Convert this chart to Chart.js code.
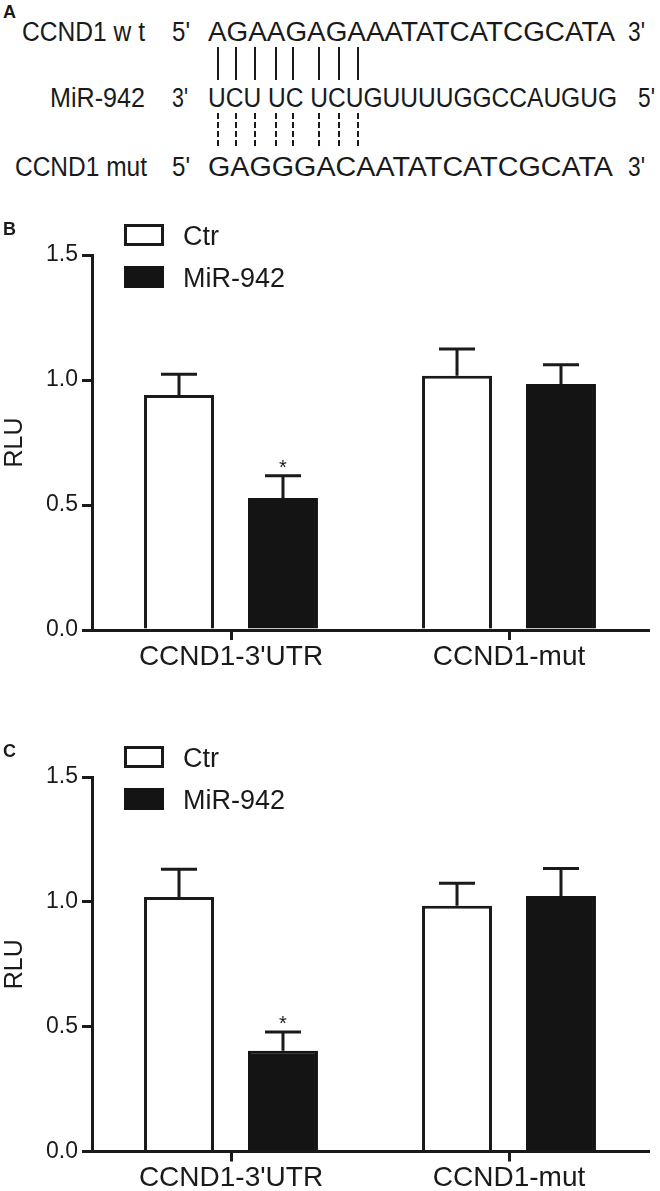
<!DOCTYPE html>
<html><head><meta charset="utf-8">
<script src="https://cdn.jsdelivr.net/npm/chart.js@4.4.1/dist/chart.umd.min.js"></script>
<style>
html,body{margin:0;padding:0;background:#fff;}
body{width:660px;height:1191px;position:relative;overflow:hidden;font-family:"Liberation Sans",Arial,sans-serif;color:#1a1a1a;}
.t{position:absolute;font-size:27px;line-height:27px;white-space:pre;transform-origin:0 0;}
.pl{position:absolute;font-weight:bold;font-size:18px;line-height:18px;}
.vl{position:absolute;width:2px;background:#1a1a1a;}
.dl{position:absolute;width:2px;background:repeating-linear-gradient(to bottom,#1a1a1a 0,#1a1a1a 6.5px,transparent 6.5px,transparent 9px);}
canvas{position:absolute;left:0;}
</style></head><body>
<div id="panelA"></div>
<canvas id="cb" width="660" height="480" style="top:200px"></canvas>
<canvas id="cc" width="660" height="470" style="top:721px"></canvas>
<script>
// ---------- data ----------
const categories = ["CCND1-3'UTR", "CCND1-mut"];
const seriesNames = ["Ctr", "MiR-942"];
const yTicks = [0, 0.5, 1.0, 1.5];

const bCtr = [0.94, 1.017];
const bCtrErr = [0.083, 0.107];
const bMir = [0.528, 0.984];
const bMirErr = [0.089, 0.077];
const bMirSig = ["*", ""];

const cCtr = [1.019, 0.984];
const cCtrErr = [0.112, 0.09];
const cMir = [0.404, 1.023];
const cMirErr = [0.075, 0.111];
const cMirSig = ["*", ""];

const panelLetters = ["A", "B", "C"];
const seqLabels = ["CCND1 w t", "MiR-942", "CCND1 mut"];
const seqStart = ["5'", "3'", "5'"];
const seqEnd = ["3'", "5'", "3'"];
const sequences = ["AGAAGAGAAATATCATCGCATA", "UCU UC UCUGUUUUGGCCAUGUG", "GAGGGACAATATCATCGCATA"];

// ---------- layout (panel A) ----------
const A_LAYOUT = {
  baselines: [42, 108, 177],
  label: [[22, 123], [50, 95], [15, 132]],
  start: [[172, 18], [172, 16], [172, 18]],
  seq: [[208, 407], [208, 409], [208, 405]],
  end: [[628, 17], [638, 17], [628, 17]],
  pairX: [218, 236, 255, 276, 293, 319, 339, 358],
  solid: [47, 80], dashed: [113, 147],
  letters: [[3, 18], [3, 235], [3, 757]]
};
const INK = '#1a1a1a';
const FILL = '#141414';
const FONT = '"Liberation Sans", Arial, sans-serif';

const pa = document.getElementById('panelA');
function addText(txt, left, width, baseline) {
  const d = document.createElement('div');
  d.className = 't';
  d.textContent = txt;
  d.style.left = left + 'px';
  d.style.top = (baseline - 22.85) + 'px';
  pa.appendChild(d);
  const w = d.getBoundingClientRect().width;
  if (w > 0) d.style.transform = 'scaleX(' + (width / w) + ')';
}
for (let r = 0; r < 3; r++) {
  const b = A_LAYOUT.baselines[r];
  addText(seqLabels[r], A_LAYOUT.label[r][0], A_LAYOUT.label[r][1], b);
  addText(seqStart[r], A_LAYOUT.start[r][0], A_LAYOUT.start[r][1], b);
  addText(sequences[r], A_LAYOUT.seq[r][0], A_LAYOUT.seq[r][1], b);
  addText(seqEnd[r], A_LAYOUT.end[r][0], A_LAYOUT.end[r][1], b);
}
A_LAYOUT.pairX.forEach(x => {
  const s = document.createElement('div');
  s.className = 'vl';
  s.style.left = (x - 1) + 'px';
  s.style.top = A_LAYOUT.solid[0] + 'px';
  s.style.height = (A_LAYOUT.solid[1] - A_LAYOUT.solid[0]) + 'px';
  pa.appendChild(s);
  const d = document.createElement('div');
  d.className = 'dl';
  d.style.left = (x - 1) + 'px';
  d.style.top = A_LAYOUT.dashed[0] + 'px';
  d.style.height = (A_LAYOUT.dashed[1] - A_LAYOUT.dashed[0]) + 'px';
  pa.appendChild(d);
});
panelLetters.forEach((L, i) => {
  const d = document.createElement('div');
  d.className = 'pl';
  d.textContent = L;
  d.style.left = A_LAYOUT.letters[i][0] + 'px';
  d.style.top = (A_LAYOUT.letters[i][1] - 15.2) + 'px';
  document.body.appendChild(d);
});

// ---------- plugins ----------
const errPlugin = {
  id: 'errbars',
  afterDatasetsDraw(chart) {
    const ctx = chart.ctx, y = chart.scales.y;
    chart.data.datasets.forEach((ds, i) => {
      const meta = chart.getDatasetMeta(i);
      meta.data.forEach((el, j) => {
        const v = ds.data[j], e = ds.errors[j];
        const yt = y.getPixelForValue(v), ye = y.getPixelForValue(v + e);
        ctx.save();
        ctx.strokeStyle = INK; ctx.lineWidth = 3; ctx.lineCap = 'butt';
        ctx.beginPath();
        ctx.moveTo(el.x, yt); ctx.lineTo(el.x, ye);
        ctx.moveTo(el.x - 18, ye); ctx.lineTo(el.x + 18, ye);
        ctx.stroke();
        if (ds.sig && ds.sig[j]) {
          ctx.fillStyle = INK;
          ctx.font = '20px ' + FONT;
          ctx.textAlign = 'center';
          ctx.textBaseline = 'alphabetic';
          ctx.fillText(ds.sig[j], el.x, ye - 2);
        }
        ctx.restore();
      });
    });
  }
};
const legendPlugin = {
  id: 'boxlegend',
  afterDraw(chart) {
    const ctx = chart.ctx, a = chart.chartArea;
    chart.data.datasets.forEach((ds, i) => {
      const bx = a.left + 32, by = a.top - 31 + i * 42, bw = 40, bh = 22;
      ctx.save();
      if (i === 0) {
        ctx.strokeStyle = INK; ctx.lineWidth = 3;
        ctx.strokeRect(bx + 1.5, by + 1.5, bw - 3, bh - 3);
      } else {
        ctx.fillStyle = FILL;
        ctx.fillRect(bx, by, bw, bh);
      }
      ctx.fillStyle = INK;
      ctx.font = '27px ' + FONT;
      ctx.textAlign = 'left';
      ctx.textBaseline = 'alphabetic';
      ctx.fillText(ds.label, a.left + 91, by + bh / 2 + 10);
      ctx.restore();
    });
  }
};

// ---------- charts ----------
function buildChart(id, ctr, ctrErr, mir, mirErr, sig, padTop, xHeight) {
  return new Chart(document.getElementById(id), {
    type: 'bar',
    data: {
      labels: categories,
      datasets: [
        { label: seriesNames[0], data: ctr, errors: ctrErr, backgroundColor: '#ffffff', borderColor: INK, borderWidth: 3, borderSkipped: 'start' },
        { label: seriesNames[1], data: mir, errors: mirErr, sig: sig, backgroundColor: FILL, borderColor: FILL, borderWidth: 3, borderSkipped: 'start' }
      ]
    },
    options: {
      responsive: false, animation: false, devicePixelRatio: 1,
      layout: { padding: { top: padTop, left: 0, right: 12, bottom: 0 } },
      plugins: { legend: { display: false }, tooltip: { enabled: false } },
      datasets: { bar: { barPercentage: 0.673, categoryPercentage: 0.748 } },
      scales: {
        x: {
          grid: { display: true, drawOnChartArea: false, offset: false, color: INK, lineWidth: 3, tickLength: 10 },
          border: { display: true, color: INK, width: 3 },
          ticks: { color: INK, font: { family: FONT, size: 28 }, padding: 0, maxRotation: 0 },
          afterFit(s) { s.height = xHeight; }
        },
        y: {
          min: 0, max: 1.5,
          afterBuildTicks(s) { s.ticks = yTicks.map(v => ({ value: v })); },
          grid: { display: true, drawOnChartArea: false, color: INK, lineWidth: 3, tickLength: 10 },
          border: { display: true, color: INK, width: 3 },
          ticks: { color: INK, font: { family: FONT, size: 23 }, padding: 4, callback: v => Number(v).toFixed(1) },
          title: { display: true, text: 'RLU', color: INK, font: { family: FONT, size: 25 }, padding: 0 },
          afterFit(s) { s.width = 92; }
        }
      }
    },
    plugins: [errPlugin, legendPlugin]
  });
}
buildChart('cb', bCtr, bCtrErr, bMir, bMirErr, bMirSig, 55, 50);
buildChart('cc', cCtr, cCtrErr, cMir, cMirErr, cMirSig, 56, 39.5);
</script>
</body></html>
